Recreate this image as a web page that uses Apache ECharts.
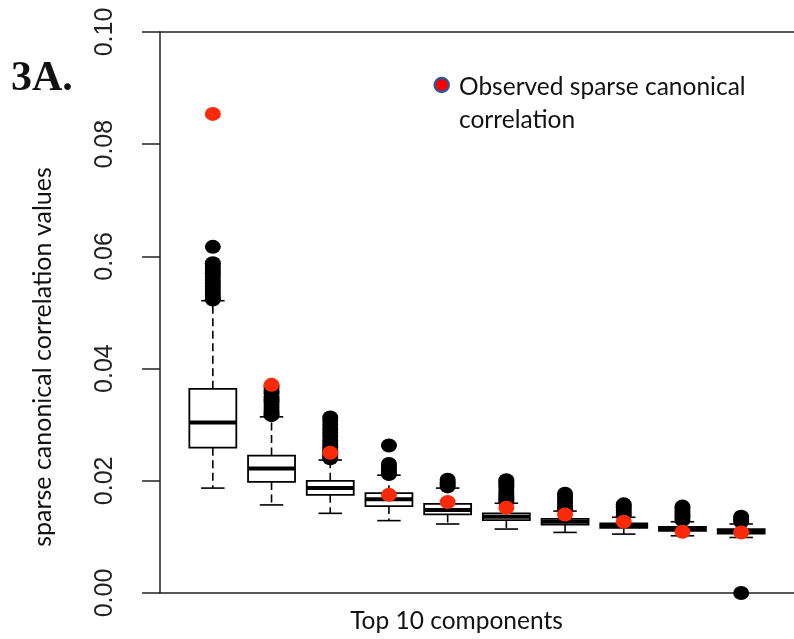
<!DOCTYPE html>
<html>
<head>
<meta charset="utf-8">
<script src="https://cdn.jsdelivr.net/npm/echarts@6/dist/echarts.min.js"></script>
<style>html,body{margin:0;padding:0;background:#fff;}#main{width:794px;height:639px;}</style>
</head>
<body>
<div id="main"></div>
<script>
// Components 1..10
var components = [1, 2, 3, 4, 5, 6, 7, 8, 9, 10];
// Box statistics per component: lower whisker, Q1, median, Q3, upper whisker
var lowerWhisker = [0.0187, 0.0157, 0.0142, 0.0129, 0.0123, 0.0114, 0.0108, 0.0105, 0.0102, 0.0099];
var q1 =           [0.0259, 0.0198, 0.0175, 0.0155, 0.0140, 0.0130, 0.0122, 0.0116, 0.0111, 0.0106];
var median =       [0.0304, 0.0222, 0.0187, 0.0167, 0.0148, 0.0136, 0.0127, 0.0120, 0.0115, 0.0110];
var q3 =           [0.0364, 0.0245, 0.0200, 0.0178, 0.0159, 0.0142, 0.0132, 0.0124, 0.0118, 0.0114];
var upperWhisker = [0.0521, 0.0314, 0.0237, 0.0210, 0.0187, 0.0160, 0.0146, 0.0135, 0.0127, 0.0123];
// Observed sparse canonical correlation (red points)
var observed =     [0.0854, 0.0371, 0.0250, 0.0175, 0.0162, 0.0152, 0.0140, 0.0127, 0.0109, 0.0108];
// Outliers per component
var outliers = [
  [0.0523, 0.0526, 0.0530, 0.0535, 0.0540, 0.0546, 0.0552, 0.0558, 0.0564, 0.0570, 0.0576, 0.0582, 0.0588, 0.0617],
  [0.0317, 0.0321, 0.0325, 0.0330, 0.0335, 0.0340, 0.0345, 0.0350, 0.0356, 0.0362, 0.0367],
  [0.0240, 0.0244, 0.0249, 0.0254, 0.0260, 0.0266, 0.0272, 0.0279, 0.0286, 0.0293, 0.0300, 0.0307, 0.0313],
  [0.0212, 0.0216, 0.0220, 0.0225, 0.0230, 0.0263],
  [0.0190, 0.0194, 0.0198, 0.0202],
  [0.0163, 0.0167, 0.0172, 0.0177, 0.0182, 0.0187, 0.0192, 0.0197, 0.0201],
  [0.0149, 0.0154, 0.0160, 0.0166, 0.0172, 0.0177],
  [0.0138, 0.0143, 0.0148, 0.0153, 0.0158],
  [0.0130, 0.0135, 0.0140, 0.0145, 0.0150, 0.0154],
  [0.0127, 0.0131, 0.0136, 0.0000]
];
var yTicks = [0, 0.02, 0.04, 0.06, 0.08, 0.10];

var boxData = components.map(function (c, i) {
  return [c, lowerWhisker[i], q1[i], median[i], q3[i], upperWhisker[i]];
});
var outlierData = [];
outliers.forEach(function (arr, i) {
  arr.forEach(function (v) { outlierData.push([components[i], v]); });
});
var observedData = components.map(function (c, i) { return [c, observed[i]]; });

function renderBox(params, api) {
  var x = api.value(0);
  var pLow = api.coord([x, api.value(1)]);
  var pQ1 = api.coord([x, api.value(2)]);
  var pMed = api.coord([x, api.value(3)]);
  var pQ3 = api.coord([x, api.value(4)]);
  var pUp = api.coord([x, api.value(5)]);
  var bw = api.size([0.8, 0])[0];
  var cw = bw / 2;
  var cx = pMed[0];
  var stroke = {stroke: '#000', lineWidth: 1.6, fill: null};
  var dashed = {stroke: '#000', lineWidth: 1.6, lineDash: [8, 4.5], fill: null};
  return {
    type: 'group',
    children: [
      {type: 'line', shape: {x1: cx, y1: pQ3[1], x2: cx, y2: pUp[1]}, style: dashed},
      {type: 'line', shape: {x1: cx, y1: pQ1[1], x2: cx, y2: pLow[1]}, style: dashed},
      {type: 'line', shape: {x1: cx - cw / 2, y1: pUp[1], x2: cx + cw / 2, y2: pUp[1]}, style: stroke},
      {type: 'line', shape: {x1: cx - cw / 2, y1: pLow[1], x2: cx + cw / 2, y2: pLow[1]}, style: stroke},
      {type: 'rect', shape: {x: cx - bw / 2, y: pQ3[1], width: bw, height: pQ1[1] - pQ3[1]},
        style: {stroke: '#000', lineWidth: 1.8, fill: '#fff'}},
      {type: 'line', shape: {x1: cx - bw / 2, y1: pMed[1], x2: cx + bw / 2, y2: pMed[1]},
        style: {stroke: '#000', lineWidth: 4}}
    ]
  };
}

var chart = echarts.init(document.getElementById('main'), null, {renderer: 'canvas'});
var sansFont = 'Lato, "Open Sans", sans-serif';
chart.setOption({
  backgroundColor: '#fff',
  animation: false,
  grid: {left: 160, top: 32, width: 636, height: 561},
  xAxis: [
    {type: 'value', min: 0.1, max: 10.9, position: 'bottom',
      axisLine: {show: true, onZero: false, lineStyle: {color: '#222', width: 1.5}},
      axisTick: {show: false}, axisLabel: {show: false}, splitLine: {show: false}},
    {type: 'value', min: 0.1, max: 10.9, position: 'top',
      axisLine: {show: true, onZero: false, lineStyle: {color: '#222', width: 1.5}},
      axisTick: {show: false}, axisLabel: {show: false}, splitLine: {show: false}}
  ],
  yAxis: {
    type: 'value', min: 0, max: 0.1, interval: 0.02,
    axisLine: {show: true, lineStyle: {color: '#222', width: 1.5}},
    axisTick: {show: true, length: 18, lineStyle: {color: '#222', width: 1.5}},
    splitLine: {show: false},
    axisLabel: {
      rotate: 90, margin: 42, fontSize: 25, color: '#222',
      fontFamily: '"Liberation Sans", Arial, sans-serif',
      formatter: function (v) { return v.toFixed(2); }
    }
  },
  series: [
    {type: 'custom', name: 'Permuted', renderItem: renderBox, data: boxData,
      encode: {x: 0, y: [1, 2, 3, 4, 5]}, z: 2},
    {type: 'scatter', name: 'Outliers', data: outlierData, symbol: 'circle', symbolSize: [16, 14],
      itemStyle: {color: '#000', opacity: 1}, z: 3},
    {type: 'scatter', name: 'Observed sparse canonical correlation', data: observedData,
      symbol: 'circle', symbolSize: [16, 14], itemStyle: {color: '#fa2a0a', opacity: 1}, z: 4}
  ],
  graphic: [
    {type: 'text', left: 11, top: 58, style: {text: '3A.', font: 'bold 42px "Liberation Serif", "Times New Roman", serif', fill: '#111'}},
    {type: 'circle', shape: {cx: 441.7, cy: 85, r: 7}, style: {fill: '#ff0000', stroke: '#2f5597', lineWidth: 2.5}},
    {type: 'text', x: 459, y: 87, style: {text: 'Observed sparse canonical', font: '24.5px ' + sansFont, fill: '#111', verticalAlign: 'middle'}},
    {type: 'text', x: 459, y: 120, style: {text: 'correlation', font: '24.5px ' + sansFont, fill: '#111', verticalAlign: 'middle'}},
    {type: 'text', x: 456.5, y: 621, style: {text: 'Top 10 components', font: '24.5px ' + sansFont, fill: '#111', align: 'center', verticalAlign: 'middle'}},
    {type: 'text', x: 43, y: 357, rotation: Math.PI / 2, style: {text: 'sparse canonical correlation values', font: '25px ' + sansFont, fill: '#111', align: 'center', verticalAlign: 'middle'}}
  ]
});
</script>
</body>
</html>
